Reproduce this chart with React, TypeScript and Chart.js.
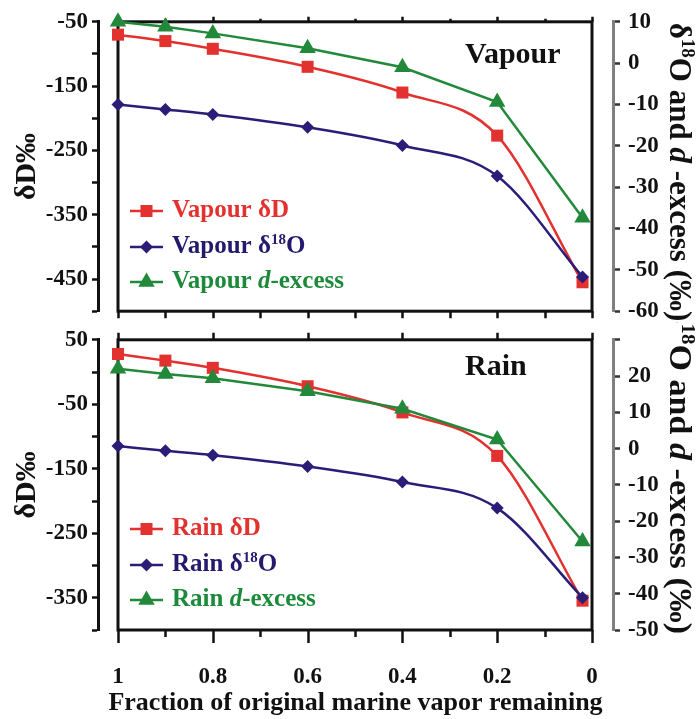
import { useEffect, useRef } from 'react';
import { Chart, registerables } from 'chart.js';

Chart.register(...registerables);

const FONT = '"Liberation Serif", "Times New Roman", Times, serif';

// ---- data ----
const fraction = [1, 0.9, 0.8, 0.6, 0.4, 0.2, 0.02];
const vapourDD = [-70, -80, -92, -120, -160, -227, -455];
const vapourD18O = [-10, -11.2, -12.4, -15.5, -19.9, -27.3, -51.7];
const vapourDex = [10, 8.8, 7.2, 3.6, -1.0, -9.4, -37.4];
const rainDD = [28, 17.7, 6.5, -22, -62.6, -130, -354.5];
const rainD18O = [0.7, -0.6, -1.8, -4.9, -9.2, -16.4, -41.1];
const rainDex = [22, 20.6, 19.4, 15.8, 11.0, 2.5, -25.6];

const xTickLabels = [1, 0.8, 0.6, 0.4, 0.2, 0];
const xFrameTicks = [1, 0.9, 0.8, 0.7, 0.6, 0.5, 0.4, 0.3, 0.2, 0.1, 0];

const RED = '#e2312e';
const NAVY = '#2a1d78';
const GREEN = '#22893a';
const INK = '#111111';

// x range chosen so the separate y-axis lines sit 20px outside the frame
const X_MIN = -0.0443;
const X_MAX = 1.0422;

type Seg = { t: string; sup?: boolean; it?: boolean };

function segFont(s: Seg, size: number) {
  const sz = s.sup ? Math.round(size * 0.6) : size;
  return `${s.it ? 'italic ' : ''}bold ${sz}px ${FONT}`;
}
function measureRich(ctx: CanvasRenderingContext2D, segs: Seg[], size: number) {
  let w = 0;
  for (const s of segs) {
    ctx.font = segFont(s, size);
    w += ctx.measureText(s.t).width;
  }
  return w;
}
function drawRich(ctx: CanvasRenderingContext2D, segs: Seg[], x: number, y: number, size: number, color: string) {
  ctx.save();
  ctx.fillStyle = color;
  ctx.textBaseline = 'alphabetic';
  ctx.textAlign = 'left';
  let cx = x;
  for (const s of segs) {
    ctx.font = segFont(s, size);
    ctx.fillText(s.t, cx, s.sup ? y - size * 0.38 : y);
    cx += ctx.measureText(s.t).width;
  }
  ctx.restore();
}

function drawMarker(ctx: CanvasRenderingContext2D, style: string, x: number, y: number, color: string) {
  ctx.save();
  ctx.fillStyle = color;
  ctx.beginPath();
  if (style === 'rect') {
    ctx.rect(x - 6, y - 6, 12, 12);
  } else if (style === 'rectRot') {
    const r = 6.5;
    ctx.moveTo(x, y - r);
    ctx.lineTo(x + r, y);
    ctx.lineTo(x, y + r);
    ctx.lineTo(x - r, y);
    ctx.closePath();
  } else {
    const r = 9.5;
    let a = 0;
    ctx.moveTo(x + Math.sin(a) * r, y - Math.cos(a) * r);
    a += (2 * Math.PI) / 3;
    ctx.lineTo(x + Math.sin(a) * r, y - Math.cos(a) * r);
    a += (2 * Math.PI) / 3;
    ctx.lineTo(x + Math.sin(a) * r, y - Math.cos(a) * r);
    ctx.closePath();
  }
  ctx.fill();
  ctx.restore();
}

interface PanelSpec {
  name: string;
  dd: number[];
  d18o: number[];
  dex: number[];
  leftMin: number;
  leftMax: number;
  rightMin: number;
  rightMax: number;
  rightHidden: number[];
  canvasH: number;
  padBottom: number;
  showX: boolean;
  labelBaseline: number;
  legendRows: number[];
  rightTitleCenter: number;
  rightTitleClip: number;
  rightTitleStretch: number;
  topMajor: number;
  topMinor: number;
  botMajor: number;
  botMinor: number;
}

const topSpec: PanelSpec = {
  name: 'Vapour',
  dd: vapourDD,
  d18o: vapourD18O,
  dex: vapourDex,
  leftMin: -500,
  leftMax: -50,
  rightMin: -60,
  rightMax: 10,
  rightHidden: [],
  canvasH: 333,
  padBottom: 21,
  showX: false,
  labelBaseline: 63,
  legendRows: [211, 247, 282],
  rightTitleCenter: 172,
  rightTitleClip: 0,
  rightTitleStretch: 1,
  topMajor: 5,
  topMinor: 3,
  botMajor: 7,
  botMinor: 7,
};

const botSpec: PanelSpec = {
  name: 'Rain',
  dd: rainDD,
  d18o: rainD18O,
  dex: rainDex,
  leftMin: -400,
  leftMax: 50,
  rightMin: -50,
  rightMax: 30,
  rightHidden: [30],
  canvasH: 401,
  padBottom: 0,
  showX: true,
  labelBaseline: 57,
  legendRows: [211, 247, 282],
  rightTitleCenter: 152,
  rightTitleClip: 4,
  rightTitleStretch: 1.1,
  topMajor: 7,
  topMinor: 0,
  botMajor: 13,
  botMinor: 7,
};

function makePlugin(spec: PanelSpec) {
  const legendItems: { segs: Seg[]; color: string; text: string; style: string }[] = [
    { segs: [{ t: `${spec.name} δD` }], color: RED, text: RED, style: 'rect' },
    { segs: [{ t: `${spec.name} δ` }, { t: '18', sup: true }, { t: 'O' }], color: NAVY, text: '#231a6e', style: 'rectRot' },
    { segs: [{ t: `${spec.name} ` }, { t: 'd', it: true }, { t: '-excess' }], color: GREEN, text: '#1c8a3a', style: 'triangle' },
  ];
  return {
    id: 'panel-' + spec.name,
    beforeDatasetsDraw(chart: any) {
      const ctx: CanvasRenderingContext2D = chart.ctx;
      const xs = chart.scales.x;
      const { top, bottom } = chart.chartArea;
      const xl = xs.getPixelForValue(1);
      const xr = xs.getPixelForValue(0);
      ctx.save();
      ctx.strokeStyle = INK;
      ctx.lineWidth = 3;
      ctx.strokeRect(xl, top, xr - xl, bottom - top);
      ctx.lineWidth = 2.5;
      ctx.beginPath();
      xFrameTicks.forEach((v, i) => {
        const major = i % 2 === 0;
        const px = Math.round(xs.getPixelForValue(v)) + 0.5;
        const tl = major ? spec.topMajor : spec.topMinor;
        if (tl > 0) {
          ctx.moveTo(px, top);
          ctx.lineTo(px, top - tl);
        }
        const bl = major ? spec.botMajor : spec.botMinor;
        if (bl > 0) {
          ctx.moveTo(px, bottom);
          ctx.lineTo(px, bottom + bl);
        }
      });
      ctx.stroke();
      ctx.restore();
    },
    afterDraw(chart: any) {
      const ctx: CanvasRenderingContext2D = chart.ctx;
      // panel label
      ctx.save();
      ctx.fillStyle = INK;
      ctx.font = `bold 30px ${FONT}`;
      ctx.textBaseline = 'alphabetic';
      ctx.textAlign = 'left';
      ctx.fillText(spec.name, 465, spec.labelBaseline);
      ctx.restore();
      // legend
      legendItems.forEach((it, i) => {
        const y = spec.legendRows[i];
        ctx.save();
        ctx.strokeStyle = it.color;
        ctx.lineWidth = 2.5;
        ctx.beginPath();
        ctx.moveTo(130, y);
        ctx.lineTo(163, y);
        ctx.stroke();
        ctx.restore();
        drawMarker(ctx, it.style, 146.5, y, it.color);
        drawRich(ctx, it.segs, 172, y + 6, 25, it.text);
      });
      // right axis title
      const segs: Seg[] = [{ t: 'δ' }, { t: '18', sup: true }, { t: 'O and ' }, { t: 'd', it: true }, { t: ' -excess (‰)' }];
      const size = 31;
      const w = measureRich(ctx, segs, size);
      ctx.save();
      ctx.beginPath();
      ctx.rect(0, spec.rightTitleClip, chart.width, chart.height);
      ctx.clip();
      ctx.translate(670, spec.rightTitleCenter);
      ctx.rotate(Math.PI / 2);
      ctx.scale(spec.rightTitleStretch, 1);
      drawRich(ctx, segs, -w / 2, 0, size, INK);
      ctx.restore();
    },
  };
}

function makeChart(canvas: HTMLCanvasElement, spec: PanelSpec) {
  const toXY = (arr: number[]) => fraction.map((f, i) => ({ x: f, y: arr[i] }));
  const tickFont = { family: FONT, size: 23, weight: 'bold' as const };
  return new Chart(canvas, {
    type: 'line',
    data: {
      datasets: [
        {
          label: `${spec.name} δD`,
          data: toXY(spec.dd),
          yAxisID: 'yL',
          borderColor: RED,
          backgroundColor: RED,
          pointBackgroundColor: RED,
          pointBorderColor: RED,
          pointStyle: 'rect',
          pointRadius: 8.5,
          pointBorderWidth: 0,
          borderWidth: 2.5,
          cubicInterpolationMode: 'monotone',
          clip: false,
          order: 3,
        },
        {
          label: `${spec.name} δ18O`,
          data: toXY(spec.d18o),
          yAxisID: 'yR',
          borderColor: NAVY,
          backgroundColor: NAVY,
          pointBackgroundColor: NAVY,
          pointBorderColor: NAVY,
          pointStyle: 'rectRot',
          pointRadius: 6.5,
          pointBorderWidth: 0,
          borderWidth: 2.5,
          cubicInterpolationMode: 'monotone',
          clip: false,
          order: 1,
        },
        {
          label: `${spec.name} d-excess`,
          data: toXY(spec.dex),
          yAxisID: 'yR',
          borderColor: GREEN,
          backgroundColor: GREEN,
          pointBackgroundColor: GREEN,
          pointBorderColor: GREEN,
          pointStyle: 'triangle',
          pointRadius: 9.5,
          pointBorderWidth: 0,
          borderWidth: 2.5,
          tension: 0,
          clip: false,
          order: 2,
        },
      ],
    } as any,
    options: {
      responsive: false,
      animation: false,
      devicePixelRatio: 1,
      layout: { padding: { left: 0, right: 0, top: 15, bottom: spec.padBottom } },
      plugins: { legend: { display: false }, tooltip: { enabled: false } },
      scales: {
        x: {
          type: 'linear',
          reverse: true,
          min: X_MIN,
          max: X_MAX,
          display: spec.showX,
          grid: { display: false, drawTicks: false },
          border: { display: false },
          afterBuildTicks: (s: any) => {
            s.ticks = xTickLabels.map((v) => ({ value: v }));
          },
          afterFit: (s: any) => {
            s.height = spec.showX ? 89 : 0;
          },
          ticks: {
            autoSkip: false,
            maxRotation: 0,
            padding: 33,
            color: INK,
            font: tickFont,
            callback: (v: any) => String(v),
          },
          title: {
            display: true,
            text: 'Fraction of original marine vapor remaining',
            color: INK,
            font: { family: FONT, size: 26, weight: 'bold' },
            padding: { top: 0, bottom: 0 },
          },
        },
        yL: {
          type: 'linear',
          position: 'left',
          min: spec.leftMin,
          max: spec.leftMax,
          afterFit: (s: any) => {
            s.width = 98;
          },
          grid: { drawOnChartArea: false, drawTicks: true, tickLength: 6, tickWidth: 2.5, tickColor: INK, color: INK },
          border: { display: true, color: INK, width: 3 },
          ticks: {
            stepSize: 50,
            autoSkip: false,
            padding: 4,
            color: INK,
            font: tickFont,
            callback: (v: any) => ((Number(v) + 50) % 100 === 0 ? String(v) : ''),
          },
          title: {
            display: true,
            text: 'δD‰',
            color: INK,
            font: { family: FONT, size: 30, weight: 'bold' },
            padding: { top: 9, bottom: 0 },
          },
        },
        yR: {
          type: 'linear',
          position: 'right',
          min: spec.rightMin,
          max: spec.rightMax,
          afterFit: (s: any) => {
            s.width = 83;
          },
          grid: { drawOnChartArea: false, drawTicks: true, tickLength: 7, tickWidth: 2.5, tickColor: '#333333', color: '#333333' },
          border: { display: true, color: '#808080', width: 3 },
          ticks: {
            stepSize: 10,
            autoSkip: false,
            padding: 8,
            color: INK,
            font: tickFont,
            callback: (v: any) => (spec.rightHidden.includes(Number(v)) ? '' : String(v)),
          },
        },
      },
    } as any,
    plugins: [makePlugin(spec)],
  });
}

export default function App() {
  const topRef = useRef<HTMLCanvasElement>(null);
  const botRef = useRef<HTMLCanvasElement>(null);
  useEffect(() => {
    const c1 = makeChart(topRef.current!, topSpec);
    const c2 = makeChart(botRef.current!, botSpec);
    return () => {
      c1.destroy();
      c2.destroy();
    };
  }, []);
  return (
    <div style={{ position: 'absolute', left: 0, top: 0, width: 696, height: 719, background: '#ffffff', overflow: 'hidden' }}>
      <canvas
        ref={topRef}
        width={696}
        height={333}
        style={{ position: 'absolute', left: 0, top: 0, width: 696, height: 333 }}
      />
      <canvas
        ref={botRef}
        width={696}
        height={401}
        style={{ position: 'absolute', left: 0, top: 318, width: 696, height: 401 }}
      />
    </div>
  );
}
